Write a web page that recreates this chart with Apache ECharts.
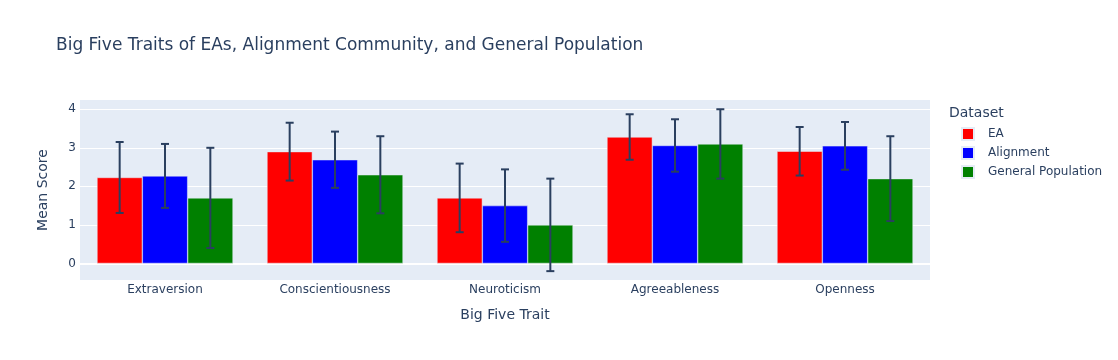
<!DOCTYPE html>
<html>
<head>
<meta charset="utf-8">
<script src="https://cdn.jsdelivr.net/npm/echarts@6/dist/echarts.min.js"></script>
<style>
html,body{margin:0;padding:0;background:#fff;}
#chart{width:1118px;height:360px;}
</style>
</head>
<body>
<div id="chart"></div>
<script>
const categories = ['Extraversion', 'Conscientiousness', 'Neuroticism', 'Agreeableness', 'Openness'];
const seriesNames = ['EA', 'Alignment', 'General Population'];
const seriesColors = ['#ff0000', '#0000ff', '#008000'];
const eaMean = [2.23, 2.9, 1.7, 3.28, 2.91];
const eaErr = [0.92, 0.75, 0.89, 0.59, 0.63];
const alignMean = [2.27, 2.69, 1.5, 3.06, 3.05];
const alignErr = [0.83, 0.73, 0.94, 0.68, 0.62];
const genMean = [1.7, 2.3, 1.0, 3.1, 2.2];
const genErr = [1.3, 1.0, 1.2, 0.9, 1.1];

const means = [eaMean, alignMean, genMean];
const errs = [eaErr, alignErr, genErr];
const textColor = '#2a3f5f';
const font = '"DejaVu Sans", Verdana, sans-serif';

const chart = echarts.init(document.getElementById('chart'), null, {renderer: 'canvas'});

const series = [];
seriesNames.forEach((name, i) => {
  series.push({
    name: name,
    type: 'bar',
    data: means[i],
    itemStyle: {color: seriesColors[i], borderColor: '#E5ECF6', borderWidth: 0.5},
    barGap: '0%',
    barCategoryGap: '20%',
    emphasis: {disabled: true}
  });
});
seriesNames.forEach((name, i) => {
  series.push({
    type: 'custom',
    name: name + ' error',
    z: 10,
    silent: true,
    data: categories.map((c, k) => [k, means[i][k], errs[i][k]]),
    renderItem: function (params, api) {
      const ci = api.value(0), v = api.value(1), e = api.value(2);
      const band = api.size([1, 0])[0];
      const barW = band * 0.8 / 3;
      const off = (i - 1) * barW;
      const top = api.coord([ci, v + e]);
      const bot = api.coord([ci, v - e]);
      const x = top[0] + off;
      const style = {stroke: textColor, lineWidth: 2};
      return {
        type: 'group',
        children: [
          {type: 'line', shape: {x1: x, y1: top[1], x2: x, y2: bot[1]}, style: style},
          {type: 'line', shape: {x1: x - 4, y1: top[1], x2: x + 4, y2: top[1]}, style: style},
          {type: 'line', shape: {x1: x - 4, y1: bot[1], x2: x + 4, y2: bot[1]}, style: style}
        ]
      };
    }
  });
});

chart.setOption({
  animation: false,
  backgroundColor: '#ffffff',
  textStyle: {fontFamily: font},
  grid: {left: 80, right: 188, top: 100, bottom: 80, show: true, backgroundColor: '#E5ECF6', borderWidth: 0},
  legend: {
    data: seriesNames,
    orient: 'vertical',
    left: 961,
    top: 127,
    padding: 0,
    itemWidth: 12,
    itemHeight: 12,
    itemGap: 5,
    icon: 'rect',
    textStyle: {color: textColor, fontSize: 12, fontFamily: font, padding: [0, 0, 0, 9], lineHeight: 14}
  },
  graphic: [
    {type: 'text', left: 56, top: 37, style: {text: 'Big Five Traits of EAs, Alignment Community, and General Population', fill: textColor, font: '17px ' + font}},
    {type: 'text', x: 949, y: 113, style: {text: 'Dataset', fill: textColor, font: '14px ' + font, textAlign: 'left', textVerticalAlign: 'middle'}},
    {type: 'text', x: 505, y: 315, style: {text: 'Big Five Trait', fill: textColor, font: '14px ' + font, textAlign: 'center', textVerticalAlign: 'middle'}},
    {type: 'text', x: 43, y: 190, rotation: Math.PI / 2, style: {text: 'Mean Score', fill: textColor, font: '14px ' + font, textAlign: 'center', textVerticalAlign: 'middle'}}
  ],
  xAxis: {
    type: 'category',
    data: categories,
    axisLine: {show: true, onZero: true, lineStyle: {color: '#ffffff', width: 2}},
    axisTick: {show: false},
    axisLabel: {color: textColor, fontSize: 12, fontFamily: font, margin: 4},
    splitLine: {show: false}
  },
  yAxis: {
    type: 'value',
    min: -0.43,
    max: 4.24,
    axisLine: {show: false},
    axisTick: {show: false},
    axisLabel: {color: textColor, fontSize: 12, fontFamily: font, margin: 4, showMinLabel: false, showMaxLabel: false},
    splitLine: {show: true, showMinLine: false, showMaxLine: false, lineStyle: {color: '#ffffff', width: 1}}
  },
  series: series
});
</script>
</body>
</html>
